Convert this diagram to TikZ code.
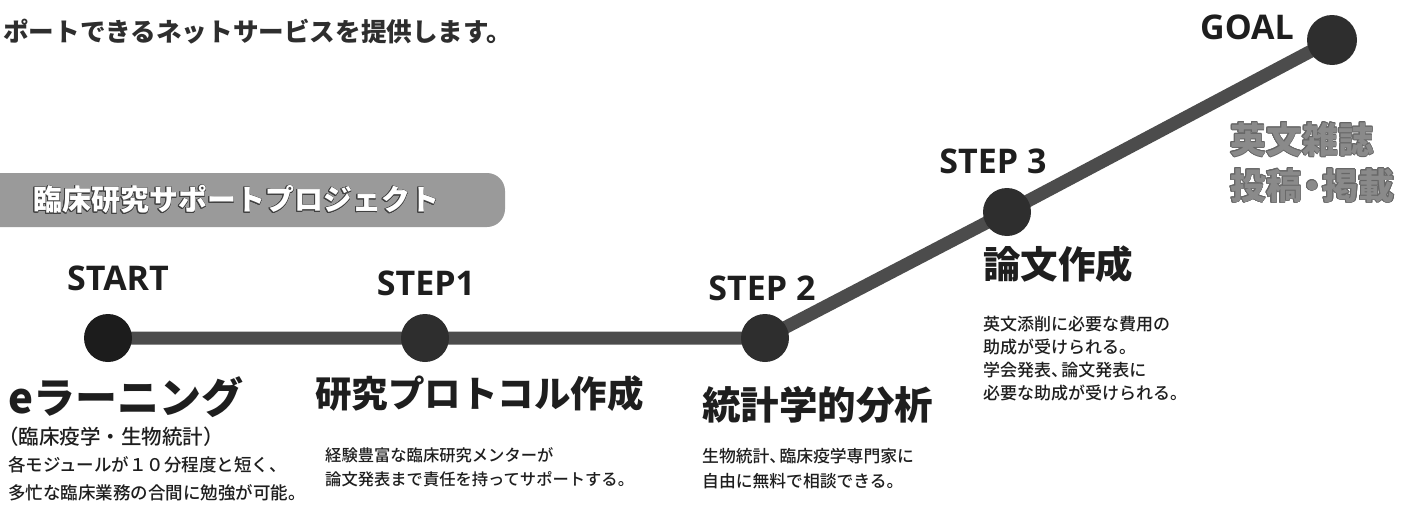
\documentclass[tikz,border=0pt]{standalone}
\usepackage{fontspec}
\usepackage{contour}
\newfontfamily\jp{Noto Sans CJK JP}
\newfontfamily\jpm{Noto Sans CJK JP Medium}
\newfontfamily\lat{Open Sans}
\definecolor{trackc}{HTML}{4C4C4C}
\definecolor{dotc}{HTML}{2E2E2E}
\definecolor{startc}{HTML}{1C1C1C}
\definecolor{bannerc}{HTML}{9A9A9A}
\definecolor{textc}{HTML}{1E1E1E}
\definecolor{goalt}{HTML}{8A8A8A}
\contourlength{0.7pt}
\newcommand{\tenten}{、\kern-0.4em}
\tikzset{
  lbl/.style={inner sep=0pt, text=textc, font=\lat\bfseries\fontsize{34}{34}\selectfont},
  ttl/.style={inner sep=0pt, anchor=west, text=textc, font=\jp\bfseries\fontsize{#1}{#1}\selectfont},
  dsc/.style={inner sep=0pt, anchor=west, text=textc, font=\jpm\fontsize{#1}{#1}\selectfont},
  dot/.style={circle, fill=dotc, minimum size=48pt, inner sep=0pt},
  track/.style={draw=trackc, line width=13pt}
}
\begin{document}
\begin{tikzpicture}[x=1pt,y=-1pt]
\useasboundingbox (0,0) rectangle (1416,514);
% header text
\node[ttl=25.6, text=black!82] (head) at (3,32) {ポートできるネットサービスを提供します。};
% banner
\fill[bannerc] (0,173) [rounded corners=18pt] -- (505,173) -- (505,227) [sharp corners] -- (0,227) -- cycle;
\node[ttl=29] (banner) at (33,200) {\contour{black!75}{\textcolor{white}{臨床研究サポートプロジェクト}}};
% circle positions
\coordinate (cstart) at (108,338);
\coordinate (cs1) at (425,338);
\coordinate (cs2) at (765,338);
\coordinate (cs3) at (1007,212);
\coordinate (cgoal) at (1332,40);
% track
\draw[track] (cstart) -- (cs1) -- (cs2) -- (cs3) -- (cgoal);
% circles
\node[dot, fill=startc] (start) at (cstart) {};
\node[dot] (s1) at (cs1) {};
\node[dot] (s2) at (cs2) {};
\node[dot] (s3) at (cs3) {};
\node[dot, minimum size=50pt] (goal) at (cgoal) {};
% step labels
\node[lbl] (lstart) at (118,278) {START};
\node[lbl] (ls1) at (426,283) {STEP1};
\node[lbl] (ls2) at (762,288) {STEP 2};
\node[lbl] (ls3) at (993,161) {STEP 3};
\node[lbl] (lgoal) at (1247,27) {GOAL};
% START texts
\node[ttl=42] (t0) at (8,397) {eラーニング};
\node[dsc=20.5] (t0s) at (-2,437) {（臨床疫学・生物統計）};
\node[dsc=17.5] (d0a) at (8,465) {各モジュールが１０分程度と短く、};
\node[dsc=17.5] (d0b) at (8,493) {多忙な臨床業務の合間に勉強が可能。};
% STEP1 texts
\node[ttl=36.5] (t1) at (315,394) {研究プロトコル作成};
\node[dsc=16.3] (d1a) at (325,455) {経験豊富な臨床研究メンターが};
\node[dsc=16.3] (d1b) at (325,479) {論文発表まで責任を持ってサポートする。};
% STEP2 texts
\node[ttl=38.5] (t2) at (702,405) {統計学的分析};
\node[dsc=16.8] (d2a) at (702,456) {生物統計\tenten 臨床疫学専門家に};
\node[dsc=16.8] (d2b) at (702,481) {自由に無料で相談できる。};
% STEP3 texts
\node[ttl=37.5] (t3) at (983,264) {論文作成};
\node[dsc=17] (d3a) at (983,324) {英文添削に必要な費用の};
\node[dsc=17] (d3b) at (983,347) {助成が受けられる。};
\node[dsc=17] (d3c) at (983,370) {学会発表\tenten 論文発表に};
\node[dsc=17] (d3d) at (983,393) {必要な助成が受けられる。};
% GOAL texts
\node[ttl=36] (tg1) at (1230,140) {\contour{black!60}{\textcolor{goalt}{英文雑誌}}};
\node[ttl=36] (tg2) at (1230,186) {\contour{black!60}{\textcolor{goalt}{投稿\kern-0.22em・\kern-0.22em掲載}}};
\end{tikzpicture}
\end{document}
